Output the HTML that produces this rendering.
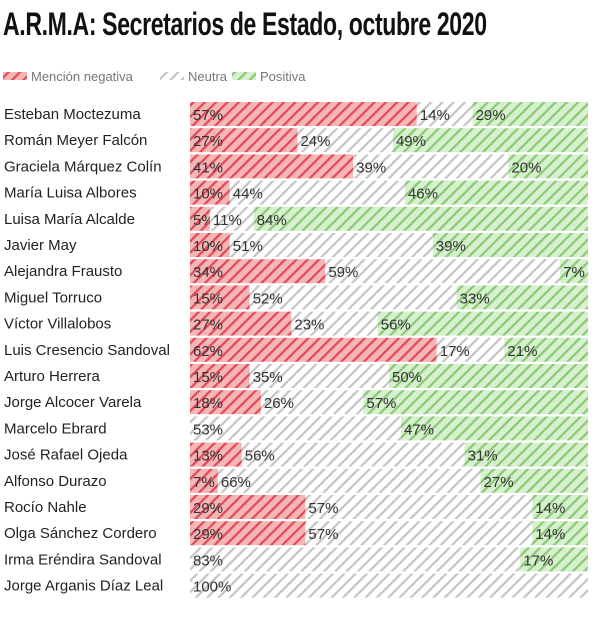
<!DOCTYPE html>
<html><head><meta charset="utf-8"><style>
body{margin:0;background:#fff;width:600px;height:620px;overflow:hidden;font-family:"Liberation Sans",sans-serif}
#title{position:absolute;left:3px;top:6px;font-family:"Liberation Sans",sans-serif;font-weight:bold;font-size:32px;color:#111;white-space:nowrap;transform-origin:0 0;letter-spacing:-0.5px}
</style></head><body>
<div id="title">A.R.M.A: Secretarios de Estado, octubre 2020</div>
<svg id="chart" width="600" height="620" style="position:absolute;left:0;top:0">
<defs>
<pattern id="pneg" width="8" height="8" patternUnits="userSpaceOnUse" patternTransform="rotate(45)"><rect width="8" height="8" fill="#f5b6b6"/><rect width="2.2" height="8" fill="#e2475a"/></pattern>
<pattern id="pneu" width="8" height="8" patternUnits="userSpaceOnUse" patternTransform="rotate(45)"><rect width="8" height="8" fill="#fff"/><rect width="2.2" height="8" fill="#c4c4c4"/></pattern>
<pattern id="ppos" width="8" height="8" patternUnits="userSpaceOnUse" patternTransform="rotate(45)"><rect width="8" height="8" fill="#d8efd0"/><rect width="2.2" height="8" fill="#86cb72"/></pattern>
</defs>
<g id="legend"></g>
<g id="bars"></g>
</svg>
<script>
const names=["Esteban Moctezuma","Román Meyer Falcón","Graciela Márquez Colín","María Luisa Albores","Luisa María Alcalde","Javier May","Alejandra Frausto","Miguel Torruco","Víctor Villalobos","Luis Cresencio Sandoval","Arturo Herrera","Jorge Alcocer Varela","Marcelo Ebrard","José Rafael Ojeda","Alfonso Durazo","Rocío Nahle","Olga Sánchez Cordero","Irma Eréndira Sandoval","Jorge Arganis Díaz Leal"];
const negative=[57,27,41,10,5,10,34,15,27,62,15,18,0,13,7,29,29,0,0];
const neutral=[14,24,39,44,11,51,59,52,23,17,35,26,53,56,66,57,57,83,100];
const positive=[29,49,20,46,84,39,7,33,56,21,50,57,47,31,27,14,14,17,0];
const seriesNames=["Mención negativa","Neutra","Positiva"];
const NS="http://www.w3.org/2000/svg";
const x0=190,x1=588,top0=102,pitch=26.2,bh=24;
const ys=i=>top0+i*pitch;
const fills=["url(#pneg)","url(#pneu)","url(#ppos)"];
const keys=["neg","neu","pos"];
const bars=document.getElementById('bars');
function mk(t,a){const e=document.createElementNS(NS,t);for(const k in a)e.setAttribute(k,a[k]);return e;}
names.forEach((n,i)=>{
  const y=ys(i);
  const lab=mk('text',{x:4,y:y+17,'font-size':15,fill:'#222'});
  lab.textContent=n;
  
  
  bars.appendChild(lab);
  const vals=[negative[i],neutral[i],positive[i]];
  const tot=vals.reduce((a,b)=>a+b,0)||100;
  const xs=v=>x0+(x1-x0)*v/tot;
  let acc=0;
  vals.forEach((v,s)=>{
    if(v<=0)return;
    const r=mk('rect',{x:xs(acc),y:y,width:xs(acc+v)-xs(acc),height:bh,fill:fills[s]});
    
    
    bars.appendChild(r);
    const t=mk('text',{x:xs(acc)+3,y:y+18,'font-size':15,fill:'#333'});
    t.textContent=v+'%';
    
    
    bars.appendChild(t);
    acc+=v;
  });
});
const lg=document.getElementById('legend');
const lx=[3,160,232];
seriesNames.forEach((n,s)=>{
  const g=mk('g',{});
  
  
  g.appendChild(mk('rect',{x:lx[s],y:72,width:24,height:8,fill:fills[s]}));
  const t=mk('text',{x:lx[s]+28,y:81,'font-size':13,fill:'#777'});
  t.textContent=n;
  g.appendChild(t);
  lg.appendChild(g);
});
const ti=document.getElementById('title');
ti.style.transform='scaleX('+(484/ti.scrollWidth)+')';
</script>
</body></html>
